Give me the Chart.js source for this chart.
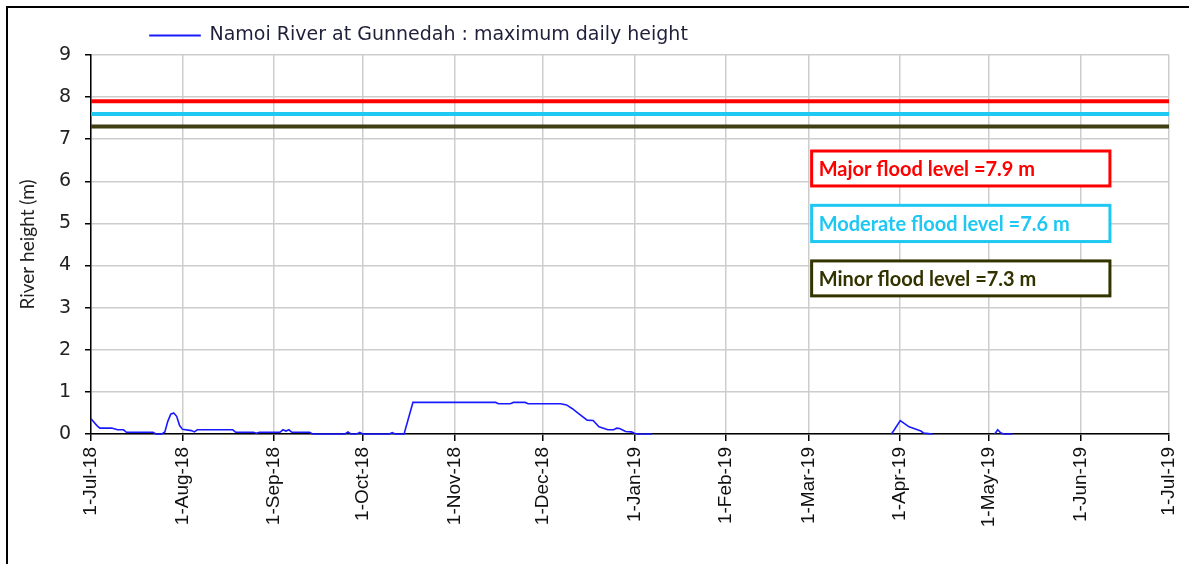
<!DOCTYPE html>
<html>
<head>
<meta charset="utf-8">
<script src="https://cdn.jsdelivr.net/npm/chart.js@4/dist/chart.umd.min.js"></script>
<style>
  html, body { margin: 0; padding: 0; background: #fff; overflow: hidden; }
  #wrap { position: relative; width: 1189px; height: 564px; }
  #frame { position: absolute; left: 6px; top: 6px; width: 1300px; height: 700px; border: 2px solid #000; }
  #riverChart { position: absolute; left: 0; top: 0; }
</style>
</head>
<body>
<div id="wrap">
  <div id="frame"></div>
  <canvas id="riverChart" width="1189" height="564"></canvas>
</div>
<script>
// days counted from 1-Jul-18
const monthDays = [0, 31, 62, 92, 123, 153, 184, 215, 243, 274, 304, 335, 365];
const monthLabels = ["1-Jul-18", "1-Aug-18", "1-Sep-18", "1-Oct-18", "1-Nov-18", "1-Dec-18",
  "1-Jan-19", "1-Feb-19", "1-Mar-19", "1-Apr-19", "1-May-19", "1-Jun-19", "1-Jul-19"];

// maximum daily height (m), null = no record
const obsDays = [0, 2, 3, 7, 9, 11, 12, 21, 22, 24, 25, 26, 27, 28, 29, 30, 31, 34, 35, 36, 48, 49, 55, 56, 57,
  64, 65, 66, 67, 68, 74, 75, 86, 87, 88, 90, 91, 92, 101, 102, 103, 106, 109, 137, 138, 142, 143, 147, 148,
  159, 161, 163, 165, 168, 170, 172, 175, 177, 178, 179, 181, 183, 184, 185, 190, 191,
  271, 272, 274, 277, 281, 282, 285, 286,
  306, 307, 308, 309, 312, 313];
const obsHeights = [0.36, 0.2, 0.14, 0.14, 0.1, 0.1, 0.04, 0.04, 0, 0, 0.05, 0.3, 0.47, 0.5, 0.42, 0.2, 0.11, 0.08, 0.05, 0.1, 0.1, 0.04, 0.04, 0.02, 0.04,
  0.04, 0.1, 0.07, 0.1, 0.04, 0.04, 0, 0, 0.05, 0, 0, 0.04, 0, 0, 0.03, 0, 0, 0.75, 0.75, 0.72, 0.72, 0.75, 0.75, 0.72,
  0.72, 0.69, 0.6, 0.49, 0.33, 0.32, 0.17, 0.1, 0.1, 0.14, 0.13, 0.06, 0.05, 0.02, 0, 0, null,
  0, 0.1, 0.32, 0.17, 0.07, 0.02, 0, null,
  0, 0.1, 0.03, 0, 0, null];

const floodNames = ["Major flood level =7.9 m", "Moderate flood level =7.6 m", "Minor flood level =7.3 m"];
const floodLevels = [7.9, 7.6, 7.3];
const floodColors = ["#ff0000", "#1ec8f2", "#3f3f12"];
const floodBoxColors = ["#ff0000", "#1ec8f2", "#333300"];

const yTicks = [0, 1, 2, 3, 4, 5, 6, 7, 8, 9];

const obsPoints = obsDays.map((d, i) => ({ x: d, y: obsHeights[i] }));

const floodSets = floodLevels.map((lvl, i) => ({
  label: floodNames[i],
  data: [{ x: 0, y: lvl }, { x: 365, y: lvl }],
  borderColor: floodColors[i],
  backgroundColor: floodColors[i],
  borderWidth: 4,
  pointRadius: 0,
  inLegend: false
}));

// label boxes placed in data units (day, height)
const boxSpots = [
  { x0: 244, x1: 345, yTop: 6.72, yBot: 5.89 },
  { x0: 244, x1: 345, yTop: 5.43, yBot: 4.57 },
  { x0: 244, x1: 345, yTop: 4.11, yBot: 3.28 }
];

const floodBoxes = {
  id: 'floodBoxes',
  afterDatasetsDraw(chart) {
    const { ctx, scales: { x, y } } = chart;
    ctx.save();
    boxSpots.forEach((b, i) => {
      const l = x.getPixelForValue(b.x0), r = x.getPixelForValue(b.x1);
      const t = y.getPixelForValue(b.yTop), bt = y.getPixelForValue(b.yBot);
      ctx.fillStyle = '#fff';
      ctx.fillRect(l, t, r - l, bt - t);
      ctx.lineWidth = 3;
      ctx.strokeStyle = floodBoxColors[i];
      ctx.strokeRect(l, t, r - l, bt - t);
      ctx.fillStyle = floodBoxColors[i];
      ctx.font = 'bold 20px Lato';
      ctx.textBaseline = 'middle';
      ctx.fillText(floodNames[i], l + 7, (t + bt) / 2 + 1);
    });
    ctx.restore();
  }
};

const legendShift = {
  id: 'legendShift',
  afterLayout(chart) {
    const lg = chart.legend;
    const dx = 150 - (lg.left + lg.options.labels.padding);
    lg.left += dx;
    lg.right += dx;
  }
};

new Chart(document.getElementById('riverChart'), {
  type: 'line',
  data: {
    datasets: [
      {
        label: 'Namoi River at Gunnedah : maximum daily height',
        data: obsPoints,
        borderColor: '#1a1aff',
        backgroundColor: '#1a1aff',
        borderWidth: 1.6,
        pointRadius: 0,
        tension: 0,
        clip: 6
      },
      ...floodSets
    ]
  },
  options: {
    responsive: false,
    animation: false,
    layout: { padding: { left: 8, right: 20, top: 1, bottom: 0 } },
    plugins: {
      tooltip: { enabled: false },
      legend: {
        align: 'start',
        labels: {
          boxWidth: 50,
          boxHeight: 0.5,
          padding: 25,
          color: '#1f1f3a',
          font: { family: 'DejaVu Sans', size: 19 },
          filter: (item, data) => data.datasets[item.datasetIndex].inLegend !== false
        }
      }
    },
    scales: {
      x: {
        type: 'linear',
        min: 0,
        max: 365,
        afterBuildTicks: (s) => { s.ticks = monthDays.map(v => ({ value: v })); },
        afterFit: (s) => { s.height = 130; s.paddingLeft = 0; s.paddingRight = 0; },
        ticks: {
          autoSkip: false,
          minRotation: 90,
          maxRotation: 90,
          color: '#111',
          padding: 6,
          font: { family: 'Liberation Sans', size: 19 },
          callback: (v) => monthLabels[monthDays.indexOf(v)]
        },
        grid: { color: '#cdcdcd', lineWidth: 1.5, tickColor: '#000', tickLength: 7 },
        border: { color: '#000', width: 1.5 }
      },
      y: {
        min: 0,
        max: 9,
        afterBuildTicks: (s) => { s.ticks = yTicks.map(v => ({ value: v })); },
        afterFit: (s) => { s.width = 83; },
        ticks: {
          color: '#222',
          padding: 14,
          font: { family: 'DejaVu Sans', size: 19 }
        },
        title: {
          display: true,
          text: 'River height (m)',
          color: '#222',
          padding: { top: 8, bottom: 4 },
          font: { family: 'Lato', size: 19 }
        },
        grid: { color: '#cdcdcd', lineWidth: 1.5, tickColor: '#000', tickLength: 6 },
        border: { color: '#000', width: 1.5 }
      }
    }
  },
  plugins: [floodBoxes, legendShift]
});
</script>
</body>
</html>
